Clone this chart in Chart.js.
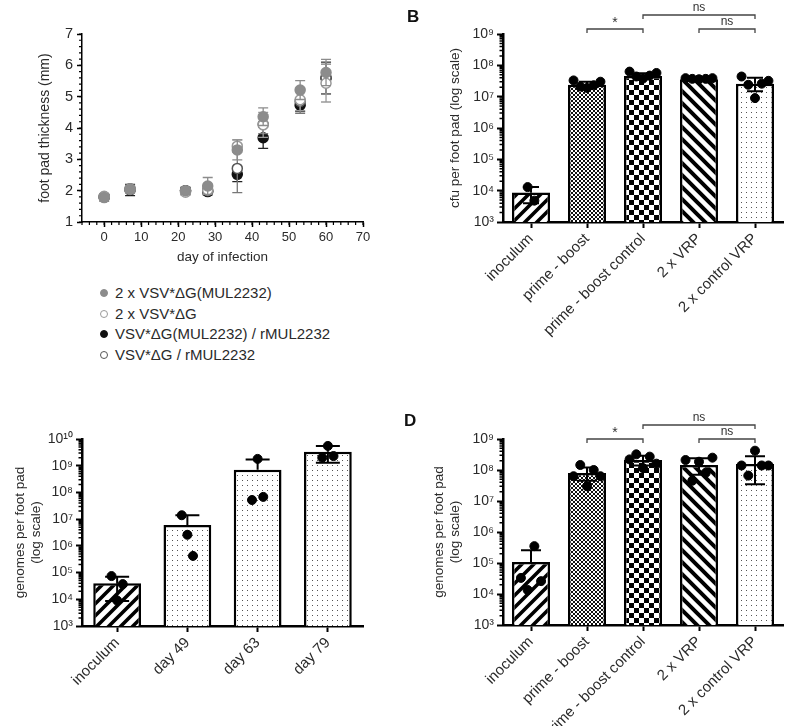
<!DOCTYPE html>
<html lang="en">
<head>
<meta charset="UTF-8"/>
<title>Foot pad thickness and virus load</title>
<script src="https://cdn.jsdelivr.net/npm/chart.js@4.4.1/dist/chart.umd.min.js"></script>
<style>
  * { box-sizing: border-box; margin: 0; padding: 0; }
  body { width: 798px; height: 726px; position: relative; overflow: hidden; background: #fff;
         font-family: 'Liberation Sans', Arial, sans-serif; color: #2a2a2a; }
  canvas { position: absolute; }
  .tag { position: absolute; font-size: 17px; font-weight: bold; color: #111; }
  #legend { position: absolute; left: 100px; top: 283px; font-size: 15px; }
  #legend div { height: 20.7px; line-height: 20.7px; white-space: nowrap; }
  #legend i { display: inline-block; width: 8px; height: 8px; border-radius: 50%; margin-right: 7px; vertical-align: 1px; border: 1.3px solid; }
</style>
</head>
<body>

<canvas id="chartA" width="399" height="280" style="left:0;top:0"></canvas>
<div id="legend"></div>
<canvas id="chartB" width="399" height="363" style="left:399px;top:0"></canvas>
<canvas id="chartC" width="399" height="363" style="left:0;top:363px"></canvas>
<canvas id="chartD" width="399" height="363" style="left:399px;top:363px"></canvas>
<div class="tag" style="left:407px;top:7px">B</div>
<div class="tag" style="left:404px;top:411px">D</div>

<script>
  // ---- panel A: foot pad thickness ----
  const aDays  = [0, 7, 22, 28, 36, 43, 53, 60];
  const aXTicks = [0, 10, 20, 30, 40, 50, 60, 70];
  const aYTicks = [1, 2, 3, 4, 5, 6, 7];
  const aNames = ['2 x VSV*ΔG(MUL2232)', '2 x VSV*ΔG', 'VSV*ΔG(MUL2232) / rMUL2232', 'VSV*ΔG / rMUL2232'];
  const aMul2232     = [1.78, 2.04, 2.00, 2.15, 3.30, 4.36, 5.21, 5.77];
  const aMul2232Sd   = [0.12, 0.10, 0.12, 0.27, 0.32, 0.28, 0.30, 0.42];
  const aCtrl        = [1.82, 2.05, 1.95, 2.02, 3.42, 4.10, 4.90, 5.43];
  const aCtrlSd      = [0.08, 0.10, 0.10, 0.10, 0.20, 0.40, 0.35, 0.60];
  const aMulBoost    = [1.80, 2.02, 2.00, 1.97, 2.52, 3.69, 4.73, 5.59];
  const aMulBoostSd  = [0.06, 0.18, 0.10, 0.10, 0.23, 0.34, 0.20, 0.50];
  const aCtrlBoost   = [1.80, 2.06, 2.00, 2.00, 2.71, 4.12, 4.85, 5.60];
  const aCtrlBoostSd = [0.06, 0.12, 0.10, 0.10, 0.77, 0.30, 0.38, 0.50];

  // ---- panels B and D: vaccination groups ----
  const groups = ['inoculum', 'prime - boost', 'prime - boost control', '2 x VRP', '2 x control VRP'];
  const bTicks = [1e3, 1e4, 1e5, 1e6, 1e7, 1e8, 1e9];
  const bMeans = [8.8e3, 2.4e7, 4.6e7, 3.6e7, 2.6e7];
  const bHi    = [1.3e4, 3.0e7, 5.6e7, 3.9e7, 4.0e7];
  const bLo    = [4.0e3, 2.0e7, 3.6e7, 3.3e7, 1.5e7];
  const bDots  = [
    [1.3e4, 4.8e3],
    [3.3e7, 2.1e7, 1.9e7, 2.3e7, 3.0e7],
    [6.3e7, 4.4e7, 3.8e7, 4.7e7, 5.7e7],
    [3.9e7, 3.7e7, 3.6e7, 3.7e7, 3.9e7],
    [4.4e7, 2.4e7, 9.0e6, 2.6e7, 3.2e7]
  ];
  const dMeans = [1.07e5, 8.0e7, 2.1e8, 1.45e8, 1.55e8];
  const dHi    = [2.6e5, 1.2e8, 2.9e8, 2.4e8, 2.8e8];
  const dLo    = [null, 4.5e7, 1.4e8, 7.0e7, 3.5e7];
  const dDots  = [
    [3.3e4, 1.35e4, 3.5e5, 2.6e4],
    [6.3e7, 1.45e8, 3.0e7, 1.0e8, 6.3e7],
    [2.2e8, 3.2e8, 1.15e8, 2.7e8, 1.6e8],
    [2.1e8, 4.5e7, 1.85e8, 8.1e7, 2.5e8],
    [1.4e8, 6.6e7, 4.2e8, 1.4e8, 1.4e8]
  ];
  const sigBrackets = [
    { from: 1, to: 2, level: 0, text: '*' },
    { from: 2, to: 4, level: 1, text: 'ns' },
    { from: 3, to: 4, level: 0, text: 'ns' }
  ];

  // ---- panel C: time course ----
  const cDays  = ['inoculum', 'day 49', 'day 63', 'day 79'];
  const cTicks = [1e3, 1e4, 1e5, 1e6, 1e7, 1e8, 1e9, 1e10];
  const cMeans = [4.0e4, 6.0e6, 7.0e8, 3.3e9];
  const cHi    = [7.0e4, 1.4e7, 1.7e9, 5.5e9];
  const cLo    = [8.6e3, null, null, 1.3e9];
  const cDots  = [
    [7.4e4, 9.0e3, 3.7e4],
    [1.4e7, 2.6e6, 4.2e5],
    [5.2e7, 1.8e9, 6.8e7],
    [2.0e9, 5.5e9, 2.3e9]
  ];

  Chart.defaults.font.family = "'Liberation Sans', Arial, sans-serif";
  Chart.defaults.color = '#2a2a2a';

  const SUP = '⁰¹²³⁴⁵⁶⁷⁸⁹';
  const pow10 = v => '10' + String(Math.round(Math.log10(v))).split('').map(d => SUP[d]).join('');

  // short unlabelled ticks between the major ones
  const minorTicks = {
    id: 'minorTicks',
    afterDraw(chart, args, opts) {
      const ctx = chart.ctx;
      ctx.save();
      ctx.strokeStyle = '#000';
      ['x', 'y'].forEach(id => {
        const o = opts[id];
        const sc = chart.scales[id];
        if (!o || !sc) return;
        const vals = [];
        if (o.log) {
          for (let e = Math.round(Math.log10(sc.min)); e < Math.round(Math.log10(sc.max)); e++)
            for (let m = 2; m < 10; m++) vals.push(m * Math.pow(10, e));
        } else {
          for (let v = Math.ceil(sc.min / o.step - 1e-9) * o.step; v <= sc.max + 1e-9; v += o.step) vals.push(v);
        }
        ctx.lineWidth = o.width;
        ctx.beginPath();
        vals.forEach(v => {
          const p = sc.getPixelForValue(v);
          if (sc.isHorizontal()) { ctx.moveTo(p, sc.top); ctx.lineTo(p, sc.top + o.len); }
          else { ctx.moveTo(sc.right, p); ctx.lineTo(sc.right - o.len, p); }
        });
        ctx.stroke();
      });
      ctx.restore();
    }
  };

  // mean +/- error whiskers, read from errHi / errLo on the dataset
  function drawErrors(chart, index) {
    const ds = chart.data.datasets[index];
    if (!ds.errHi) return;
    const meta = chart.getDatasetMeta(index);
    const ys = chart.scales[meta.yAxisID];
    const ctx = chart.ctx;
    ctx.save();
    ctx.strokeStyle = ds.errColor;
    ctx.lineWidth = ds.errWidth;
    meta.data.forEach((el, i) => {
      [ds.errHi[i], ds.errLo[i]].forEach(v => {
        if (v == null) return;
        const p = ys.getPixelForValue(v);
        ctx.beginPath();
        ctx.moveTo(el.x, el.y); ctx.lineTo(el.x, p);
        ctx.moveTo(el.x - ds.errCap, p); ctx.lineTo(el.x + ds.errCap, p);
        ctx.stroke();
      });
    });
    ctx.restore();
  }
  const errorBars = {
    id: 'errorBars',
    beforeDatasetDraw(chart, args) { if (chart.data.datasets[args.index].errBehind) drawErrors(chart, args.index); },
    afterDatasetDraw(chart, args) { if (!chart.data.datasets[args.index].errBehind) drawErrors(chart, args.index); }
  };

  // significance brackets above the plot
  const brackets = {
    id: 'brackets',
    afterDraw(chart, args, o) {
      if (!o || !o.items) return;
      const ctx = chart.ctx, xs = chart.scales.x, top = chart.chartArea.top;
      ctx.save();
      ctx.strokeStyle = '#444';
      ctx.lineWidth = 1.3;
      ctx.fillStyle = '#333';
      ctx.textAlign = 'center';
      ctx.textBaseline = 'middle';
      o.items.forEach(b => {
        const y = top + o.levels[b.level];
        const x1 = xs.getPixelForValue(b.from), x2 = xs.getPixelForValue(b.to);
        ctx.beginPath();
        ctx.moveTo(x1, y + 4); ctx.lineTo(x1, y); ctx.lineTo(x2, y); ctx.lineTo(x2, y + 4);
        ctx.stroke();
        ctx.font = (b.text === '*' ? '14px' : '12px') + " 'Liberation Sans', Arial, sans-serif";
        ctx.fillText(b.text, (x1 + x2) / 2, y - (b.text === '*' ? 6 : 7));
      });
      ctx.restore();
    }
  };

  Chart.register(minorTicks, errorBars, brackets);

  // hatch fills for the bars
  function makePattern(size, draw) {
    const c = document.createElement('canvas');
    c.width = c.height = size;
    const g = c.getContext('2d');
    g.fillStyle = '#fff';
    g.fillRect(0, 0, size, size);
    draw(g, size);
    return g.createPattern(c, 'repeat');
  }
  const stripesUp = makePattern(12, (g, s) => {
    g.strokeStyle = '#000'; g.lineWidth = 3.6; g.beginPath();
    g.moveTo(-s / 2, s / 2); g.lineTo(s / 2, -s / 2);
    g.moveTo(0, s); g.lineTo(s, 0);
    g.moveTo(s / 2, s * 1.5); g.lineTo(s * 1.5, s / 2);
    g.stroke();
  });
  const stripesDown = makePattern(12, (g, s) => {
    g.strokeStyle = '#000'; g.lineWidth = 4; g.beginPath();
    g.moveTo(-s / 2, s / 2); g.lineTo(s / 2, s * 1.5);
    g.moveTo(0, 0); g.lineTo(s, s);
    g.moveTo(s / 2, -s / 2); g.lineTo(s * 1.5, s / 2);
    g.stroke();
  });
  const fineCheck = makePattern(4, g => { g.fillStyle = '#111'; g.fillRect(0, 0, 2, 2); g.fillRect(2, 2, 2, 2); });
  const coarseCheck = makePattern(10, g => { g.fillStyle = '#000'; g.fillRect(0, 0, 5, 5); g.fillRect(5, 5, 5, 5); });
  const dotted = makePattern(5, g => { g.fillStyle = '#555'; g.fillRect(2, 2, 1, 1); });

  // ---- panel A ----
  const aStyles = [
    { fill: '#8c8c8c', line: '#8c8c8c', err: '#8c8c8c', order: 1 },
    { fill: '#ffffff', line: '#9a9a9a', err: '#9a9a9a', order: 2 },
    { fill: '#111111', line: '#111111', err: '#222222', order: 4 },
    { fill: '#ffffff', line: '#555555', err: '#777777', order: 3 }
  ];
  const aSeries = [[aMul2232, aMul2232Sd], [aCtrl, aCtrlSd], [aMulBoost, aMulBoostSd], [aCtrlBoost, aCtrlBoostSd]];

  new Chart(document.getElementById('chartA'), {
    type: 'scatter',
    data: {
      datasets: aSeries.map(([mean, sd], k) => ({
        label: aNames[k],
        data: aDays.map((d, i) => ({ x: d, y: mean[i] })),
        pointRadius: 5,
        pointBackgroundColor: aStyles[k].fill,
        pointBorderColor: aStyles[k].line,
        pointBorderWidth: 1.5,
        order: aStyles[k].order,
        errHi: mean.map((m, i) => m + sd[i]),
        errLo: mean.map((m, i) => m - sd[i]),
        errColor: aStyles[k].err, errWidth: 1.3, errCap: 5, errBehind: true
      }))
    },
    options: {
      responsive: false,
      animation: false,
      layout: { padding: { left: 33, top: 34, right: 36, bottom: 10 } },
      plugins: {
        legend: { display: false },
        tooltip: { enabled: false },
        minorTicks: { x: { step: 2, len: 3, width: 1.2 }, y: { step: 0.2, len: 3, width: 1.2 } }
      },
      scales: {
        x: {
          type: 'linear', min: -6, max: 70,
          afterBuildTicks: s => { s.ticks = aXTicks.map(v => ({ value: v })); },
          afterFit: s => { s.height = 48; },
          border: { color: '#000', width: 1.5 },
          grid: { drawOnChartArea: false, tickLength: 5, tickColor: '#000', tickWidth: 1.5 },
          ticks: { font: { size: 13 }, padding: 3, maxRotation: 0, autoSkip: false },
          title: { display: true, text: 'day of infection', font: { size: 13.5 }, padding: { top: 2, bottom: 5 } }
        },
        y: {
          min: 1, max: 7,
          afterBuildTicks: s => { s.ticks = aYTicks.map(v => ({ value: v })); },
          afterFit: s => { s.width = 49; },
          border: { color: '#000', width: 1.5 },
          grid: { drawOnChartArea: false, tickLength: 5, tickColor: '#000', tickWidth: 1.5 },
          ticks: { font: { size: 14.5 }, padding: 4 },
          title: { display: true, text: 'foot pad thickness (mm)', font: { size: 14 }, padding: { top: 4, bottom: 4 } }
        }
      }
    }
  });

  document.getElementById('legend').innerHTML = aNames.map((n, k) =>
    `<div><i style="background:${aStyles[k].fill};border-color:${aStyles[k].line}"></i>${n}</div>`).join('');

  // ---- bar panels B, C, D ----
  function barPanel(id, cats, means, hi, lo, dots, fills, ticks, o) {
    const n = cats.length;
    const dotData = [];
    dots.forEach((grp, g) => grp.forEach((v, i) =>
      dotData.push({ x: g + (i - (grp.length - 1) / 2) * o.step, y: v })));
    return new Chart(document.getElementById(id), {
      type: 'bar',
      data: {
        labels: cats,
        datasets: [
          {
            data: means, backgroundColor: fills, borderColor: '#000', borderWidth: 2.5,
            barPercentage: 0.68, categoryPercentage: 1, grouped: false, order: 2,
            errHi: hi, errLo: lo, errColor: '#000', errWidth: 2, errCap: o.cap
          },
          {
            type: 'scatter', data: dotData, xAxisID: 'xd', order: 1, grouped: false,
            pointRadius: 4.5, pointBackgroundColor: '#000', pointBorderColor: '#000'
          }
        ]
      },
      options: {
        responsive: false,
        animation: false,
        layout: { padding: { left: o.padL, top: o.padT, right: o.padR, bottom: 0 } },
        plugins: {
          legend: { display: false },
          tooltip: { enabled: false },
          minorTicks: { y: { log: true, len: 3.5, width: 1.5 } },
          brackets: o.brackets ? { items: o.brackets, levels: o.levels } : {}
        },
        scales: {
          x: {
            type: 'category', offset: true,
            afterFit: s => { s.height = o.xH; },
            border: { color: '#000', width: 2.5 },
            grid: { offset: false, drawOnChartArea: false, tickLength: 6, tickColor: '#000', tickWidth: 2 },
            ticks: { minRotation: 45, maxRotation: 45, autoSkip: false, font: { size: 15 }, padding: 2 }
          },
          xd: { type: 'linear', display: false, offset: false, bounds: 'data', min: -0.5, max: n - 0.5 },
          y: {
            type: 'logarithmic', min: ticks[0], max: ticks[ticks.length - 1],
            afterBuildTicks: s => { s.ticks = ticks.map(v => ({ value: v })); },
            afterFit: s => { s.width = o.yW; },
            border: { color: '#000', width: 2.5 },
            grid: { drawOnChartArea: false, tickLength: 6, tickColor: '#000', tickWidth: 2 },
            ticks: { callback: v => pow10(v), font: { size: 14 }, padding: 3 },
            title: { display: true, text: o.yTitle, font: { size: 13.5 }, padding: { top: 4, bottom: 4 } }
          }
        }
      }
    });
  }

  const groupFills = [stripesUp, fineCheck, coarseCheck, stripesDown, dotted];

  barPanel('chartB', groups, bMeans, bHi, bLo, bDots, groupFills, bTicks, {
    step: 0.12, cap: 8, padL: 44, yW: 60, padT: 34, padR: 15, xH: 141,
    yTitle: 'cfu per foot pad (log scale)', brackets: sigBrackets, levels: [-5, -19]
  });

  barPanel('chartC', cDays, cMeans, cHi, cLo, cDots, [stripesUp, dotted, dotted, dotted], cTicks, {
    step: 0.08, cap: 12, padL: 8, yW: 74, padT: 76, padR: 36, xH: 100,
    yTitle: ['genomes per foot pad', '(log scale)']
  });

  barPanel('chartD', groups, dMeans, dHi, dLo, dDots, groupFills, bTicks, {
    step: 0.12, cap: 10, padL: 28, yW: 76, padT: 76, padR: 15, xH: 101,
    yTitle: ['genomes per foot pad', '(log scale)'], brackets: sigBrackets, levels: [0, -14]
  });
</script>

</body>
</html>
